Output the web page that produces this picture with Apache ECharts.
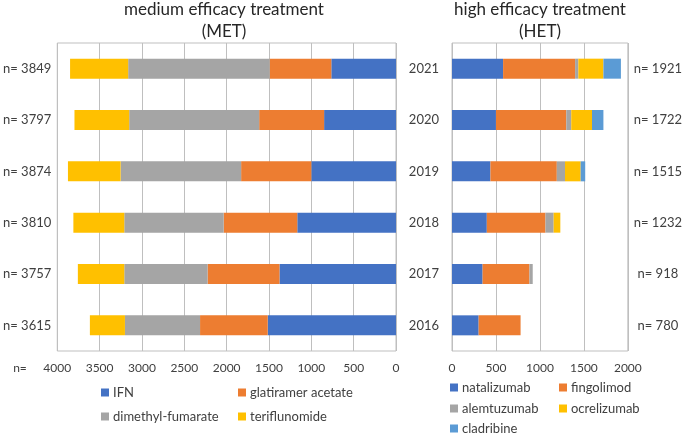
<!DOCTYPE html>
<html>
<head>
<meta charset="utf-8">
<script src="https://cdn.jsdelivr.net/npm/echarts@6/dist/echarts.min.js"></script>
<style>
  html, body { margin: 0; padding: 0; background: #fff; }
  #chart { width: 685px; height: 435px; }
</style>
</head>
<body>
<div id="chart"></div>
<script>
// rows, top to bottom
var years = ['2021', '2020', '2019', '2018', '2017', '2016'];
var metN = [3849, 3797, 3874, 3810, 3757, 3615];
var hetN = [1921, 1722, 1515, 1232, 918, 780];

// medium efficacy treatment
var ifn = [764, 849, 1000, 1166, 1376, 1515];
var glatiramer = [728, 767, 829, 869, 849, 799];
var dimethyl = [1671, 1535, 1423, 1174, 984, 887];
var teriflunomide = [686, 646, 622, 601, 548, 414];

// high efficacy treatment
var natalizumab = [581, 500, 437, 396, 348, 303];
var fingolimod = [819, 800, 755, 667, 533, 477];
var alemtuzumab = [37, 56, 93, 93, 37, 0];
var ocrelizumab = [285, 236, 178, 76, 0, 0];
var cladribine = [199, 130, 52, 0, 0, 0];

var metTicks = [0, 500, 1000, 1500, 2000, 2500, 3000, 3500, 4000];
var hetTicks = [0, 500, 1000, 1500, 2000];

var FONT = 'Lato, "Open Sans", sans-serif';
var TEXT = '#404040';
var LINE = '#bfbfbf';

var chart = echarts.init(document.getElementById('chart'));

function bar(name, data, color, axis) {
	return {
		name: name,
		type: 'bar',
		stack: 'g' + axis,
		xAxisIndex: axis,
		yAxisIndex: axis === 0 ? 0 : 1,
		barWidth: 20,
		data: data,
		itemStyle: { color: color },
		silent: true
	};
}

function legend(name, left, cy) {
	return {
		data: [name],
		left: left,
		top: cy - 8,
		padding: 0,
		icon: 'rect',
		itemWidth: 8,
		itemHeight: 8,
		itemGap: 0,
		textStyle: { fontFamily: FONT, fontSize: 13, color: TEXT, padding: [0, 0, 0, -1] }
	};
}

function xAxisOf(grid, ticks, inverse) {
	return {
		type: 'value',
		gridIndex: grid,
		inverse: inverse,
		min: ticks[0],
		max: ticks[ticks.length - 1],
		interval: 500,
		axisLine: { show: false },
		axisTick: { show: false },
		splitLine: { lineStyle: { color: LINE, width: 1 } },
		axisLabel: {
			margin: 11, fontFamily: FONT, fontSize: 12, color: TEXT,
			formatter: function (v) { return String(v); }
		}
	};
}

var option = {
	animation: false,
	grid: [
		{ left: 52, right: 289, top: 43, bottom: 84, show: true, borderColor: LINE, borderWidth: 1 },
		{ left: 452, right: 53, top: 43, bottom: 84, show: true, borderColor: LINE, borderWidth: 1 }
	],
	xAxis: [xAxisOf(0, metTicks, true), xAxisOf(1, hetTicks, false)],
	yAxis: [
		{
			type: 'category', gridIndex: 0, inverse: true, position: 'left',
			data: metN.map(function (v) { return 'n= ' + v; }),
			axisLine: { show: false }, axisTick: { show: false },
			axisLabel: { margin: 6, fontFamily: FONT, fontSize: 13, color: TEXT }
		},
		{
			type: 'category', gridIndex: 1, inverse: true, position: 'left',
			data: years,
			axisLine: { show: false }, axisTick: { show: false },
			axisLabel: { margin: 13, fontFamily: FONT, fontSize: 13, color: TEXT }
		},
		{
			type: 'category', gridIndex: 1, inverse: true, position: 'right',
			data: hetN.map(function (v) { return 'n= ' + v; }),
			axisLine: { show: false }, axisTick: { show: false },
			axisLabel: { margin: 30, align: 'center', fontFamily: FONT, fontSize: 13, color: TEXT }
		}
	],
	legend: [
		legend('IFN', 101, 394),
		legend('glatiramer acetate', 238, 394),
		legend('dimethyl-fumarate', 101, 418),
		legend('teriflunomide', 238, 418),
		legend('natalizumab', 450, 389),
		legend('fingolimod', 559, 389),
		legend('alemtuzumab', 450, 410),
		legend('ocrelizumab', 559, 410),
		legend('cladribine', 450, 430)
	],
	graphic: [
		{ type: 'text', x: 224, y: 10, style: { text: 'medium efficacy treatment', font: '17px ' + FONT, fill: '#262626', align: 'center', verticalAlign: 'middle' } },
		{ type: 'text', x: 224, y: 32, style: { text: '(MET)', font: '17px ' + FONT, fill: '#262626', align: 'center', verticalAlign: 'middle' } },
		{ type: 'text', x: 540, y: 10, style: { text: 'high efficacy treatment', font: '17px ' + FONT, fill: '#262626', align: 'center', verticalAlign: 'middle' } },
		{ type: 'text', x: 540, y: 32, style: { text: '(HET)', font: '17px ' + FONT, fill: '#262626', align: 'center', verticalAlign: 'middle' } },
		{ type: 'text', x: 20, y: 368, style: { text: 'n=', font: '12px ' + FONT, fill: TEXT, align: 'center', verticalAlign: 'middle' } }
	],
	series: [
		bar('IFN', ifn, '#4472c4', 0),
		bar('glatiramer acetate', glatiramer, '#ed7d31', 0),
		bar('dimethyl-fumarate', dimethyl, '#a5a5a5', 0),
		bar('teriflunomide', teriflunomide, '#ffc000', 0),
		bar('natalizumab', natalizumab, '#4472c4', 1),
		bar('fingolimod', fingolimod, '#ed7d31', 1),
		bar('alemtuzumab', alemtuzumab, '#a5a5a5', 1),
		bar('ocrelizumab', ocrelizumab, '#ffc000', 1),
		bar('cladribine', cladribine, '#5b9bd5', 1)
	]
};

chart.setOption(option);
</script>
</body>
</html>
